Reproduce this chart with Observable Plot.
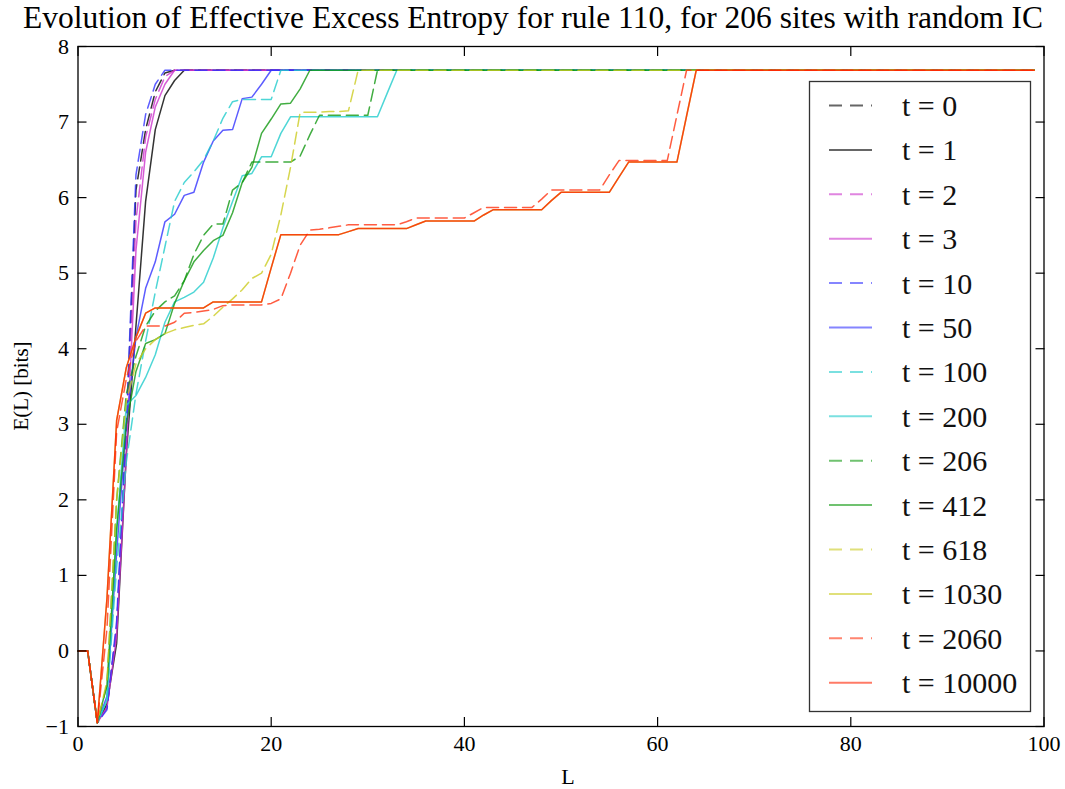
<!DOCTYPE html>
<html><head><meta charset="utf-8">
<script src="https://cdn.jsdelivr.net/npm/d3@7"></script>
<script src="https://cdn.jsdelivr.net/npm/@observablehq/plot@0.6"></script>
<style>body{margin:0;background:#fff;} svg{display:block;}</style>
</head><body><div id="chart"></div>
<script>
// ---- data (E(L) in bits at L = 0,1,2,... ; plateau value runs to L = 99) ----
const title = "Evolution of Effective Excess Entropy for rule 110, for 206 sites with random IC";
const xLabel = "L";
const yLabel = "E(L) [bits]";
const xTicks = [0, 20, 40, 60, 80, 100];
const yTicks = [-1, 0, 1, 2, 3, 4, 5, 6, 7, 8];
const lastL = 99;
const plateau = 7.686;

const seriesLabels = ["t = 0","t = 1","t = 2","t = 3","t = 10","t = 50","t = 100","t = 200","t = 206","t = 412","t = 618","t = 1030","t = 2060","t = 10000"];
const seriesColors = ["#000000","#000000","#cc33cc","#cc33cc","#3333ff","#3333ff","#22cccc","#22cccc","#119911","#119911","#cccc22","#cccc22","#ff3311","#ff2200"];
const seriesDashed = [true,false,true,false,true,false,true,false,true,false,true,false,true,false];

const t0    = [0,0,-0.95,-0.75,0.3,2.9,6.1,6.9,7.4,7.65,7.686];
const t1    = [0,0,-0.95,-0.7,0.1,2.6,4.3,5.95,6.9,7.35,7.55,7.686];
const t2    = [0,0,-0.95,-0.75,0.3,2.8,5.7,6.8,7.3,7.6,7.686];
const t3    = [0,0,-0.95,-0.75,0.2,2.6,5.3,6.6,7.2,7.5,7.686];
const t10   = [0,0,-0.95,-0.78,0.4,3.0,6.3,7.1,7.5,7.686];
const t50   = [0,0,-0.95,-0.6,1.3,3.0,4.15,4.8,5.15,5.68,5.78,6.03,6.07,6.47,6.75,6.89,6.9,7.31,7.33,7.5,7.686];
const t100  = [0,0,-0.95,-0.65,1.1,2.5,3.4,4.1,4.75,5.35,5.95,6.2,6.34,6.5,6.75,7.05,7.27,7.3,7.3,7.3,7.3,7.686];
const t200  = [0,0,-0.95,-0.65,1.6,3.25,3.38,3.62,3.92,4.35,4.62,4.68,4.75,4.88,5.2,5.6,5.95,6.29,6.32,6.54,6.54,6.85,7.07,7.07,7.07,7.07,7.07,7.07,7.07,7.07,7.07,7.07,7.38,7.686];
const t206  = [0,0,-0.95,-0.45,2.0,3.4,3.9,4.3,4.5,4.62,4.7,4.9,5.25,5.5,5.65,5.65,6.1,6.2,6.47,6.47,6.47,6.47,6.47,6.55,6.83,7.09,7.09,7.09,7.09,7.09,7.09,7.686];
const t412  = [0,0,-0.95,-0.45,1.6,3.0,3.7,4.07,4.12,4.2,4.6,4.9,5.15,5.3,5.43,5.5,5.8,6.2,6.4,6.85,7.04,7.24,7.25,7.44,7.686];
const t618  = [0,0,-0.95,-0.4,2.0,3.3,3.8,4.0,4.12,4.2,4.25,4.28,4.31,4.33,4.43,4.55,4.66,4.78,4.93,5.0,5.25,5.77,6.4,7.13,7.13,7.13,7.14,7.14,7.15,7.686];
const t1030 = [0,0,-0.95,0.7,3.05,3.75,4.15,4.47,4.54,4.54,4.54,4.54,4.54,4.54,4.62,4.62,4.62,4.62,4.62,4.62,5.07,5.51,5.51,5.51,5.51,5.51,5.51,5.51,5.55,5.59,5.59,5.59,5.59,5.59,5.59,5.64,5.69,5.69,5.69,5.69,5.69,5.69,5.77,5.84,5.84,5.84,5.84,5.84,5.84,5.96,6.07,6.07,6.07,6.07,6.07,6.07,6.27,6.47,6.47,6.47,6.47,6.47,6.47,7.08,7.686];
const t2060 = [0,0,-0.95,0.3,2.9,3.6,4.1,4.3,4.3,4.3,4.35,4.47,4.48,4.5,4.52,4.57,4.58,4.58,4.58,4.58,4.6,4.66,5.0,5.37,5.57,5.58,5.6,5.62,5.64,5.64,5.64,5.64,5.64,5.64,5.68,5.73,5.73,5.73,5.73,5.73,5.73,5.8,5.87,5.87,5.87,5.87,5.87,5.87,5.98,6.1,6.1,6.1,6.1,6.1,6.1,6.3,6.49,6.49,6.49,6.49,6.49,6.49,7.09,7.686];
const t10000= [0,0,-0.95,0.7,3.05,3.75,4.15,4.47,4.54,4.54,4.54,4.54,4.54,4.54,4.62,4.62,4.62,4.62,4.62,4.62,5.07,5.51,5.51,5.51,5.51,5.51,5.51,5.51,5.55,5.59,5.59,5.59,5.59,5.59,5.59,5.64,5.69,5.69,5.69,5.69,5.69,5.69,5.77,5.84,5.84,5.84,5.84,5.84,5.84,5.96,6.07,6.07,6.07,6.07,6.07,6.07,6.27,6.47,6.47,6.47,6.47,6.47,6.47,7.08,7.686];

const seriesValues = [t0,t1,t2,t3,t10,t50,t100,t200,t206,t412,t618,t1030,t2060,t10000];

// ---- build tables ----
const tables = seriesValues.map((vals, i) => {
  const rows = vals.map((E, L) => ({series: seriesLabels[i], L, E}));
  rows.push({series: seriesLabels[i], L: lastL, E: plateau});
  return rows;
});

const W = 1065, H = 789;
const mL = 77.5, mR = 21.5, mT = 46, mB = 63;
const FONT = "Liberation Serif, Times New Roman, serif";
const DASH = "12,6";
const fmt = d => (d < 0 ? "\u2212" + Math.abs(d) : String(d));

const lineMarks = tables.map((rows, i) => Plot.line(rows, {
  x: "L", y: "E",
  stroke: seriesColors[i],
  strokeWidth: 1.5,
  strokeOpacity: 0.8,
  strokeDasharray: seriesDashed[i] ? DASH : null
}));

const chart = Plot.plot({
  width: W, height: H,
  marginLeft: mL, marginRight: mR, marginTop: mT, marginBottom: mB,
  style: {fontFamily: FONT, fontSize: "22px", color: "black", background: "white"},
  x: {domain: [0, 100]},
  y: {domain: [-1, 8]},
  marks: [
    ...lineMarks,
    Plot.axisX(xTicks, {anchor: "bottom", tickSize: 9, dy: -9, tickPadding: 9, label: null, fontSize: 22, tickFormat: fmt, strokeWidth: 1.2}),
    Plot.axisX(xTicks, {anchor: "top", tickSize: 9, dy: 9, fill: "none", label: null, strokeWidth: 1.2}),
    Plot.axisY(yTicks, {anchor: "left", tickSize: 9, dx: 9, tickPadding: 9, label: null, fontSize: 22, tickFormat: fmt, strokeWidth: 1.2}),
    Plot.axisY(yTicks, {anchor: "right", tickSize: 9, dx: -9, fill: "none", label: null, strokeWidth: 1.2}),
    Plot.frame({stroke: "black", strokeWidth: 1.3})
  ]
});

const svg = d3.select(chart);
svg.style("overflow", "visible");

// title and axis labels
svg.append("text").attr("x", 533).attr("y", 28).attr("text-anchor", "middle")
  .attr("font-family", FONT).attr("font-size", 31.5).attr("fill", "black").text(title);
svg.append("text").attr("x", 568).attr("y", 784).attr("text-anchor", "middle")
  .attr("font-family", FONT).attr("font-size", 22).attr("fill", "black").text(xLabel);
svg.append("text").attr("transform", `translate(28,${(mT + H - mB) / 2}) rotate(-90)`).attr("text-anchor", "middle")
  .attr("font-family", FONT).attr("font-size", 21).attr("fill", "black").text(yLabel);

// legend
const lg = svg.append("g");
lg.append("rect").attr("x", 809.5).attr("y", 81.5).attr("width", 221).attr("height", 630)
  .attr("fill", "white").attr("stroke", "#333").attr("stroke-width", 1.3);
seriesLabels.forEach((lab, i) => {
  const y = 105.5 + i * 44.4;
  lg.append("line").attr("x1", 829).attr("x2", 872).attr("y1", y).attr("y2", y)
    .attr("stroke", seriesColors[i]).attr("stroke-opacity", 0.6).attr("stroke-width", 2)
    .attr("stroke-dasharray", seriesDashed[i] ? "13,8" : null);
  lg.append("text").attr("x", 902).attr("y", y).attr("dy", "0.35em").attr("text-anchor", "start")
    .attr("font-family", FONT).attr("font-size", 30).attr("fill", "#111").text(lab);
});

document.getElementById("chart").appendChild(chart);
</script>
</body></html>
